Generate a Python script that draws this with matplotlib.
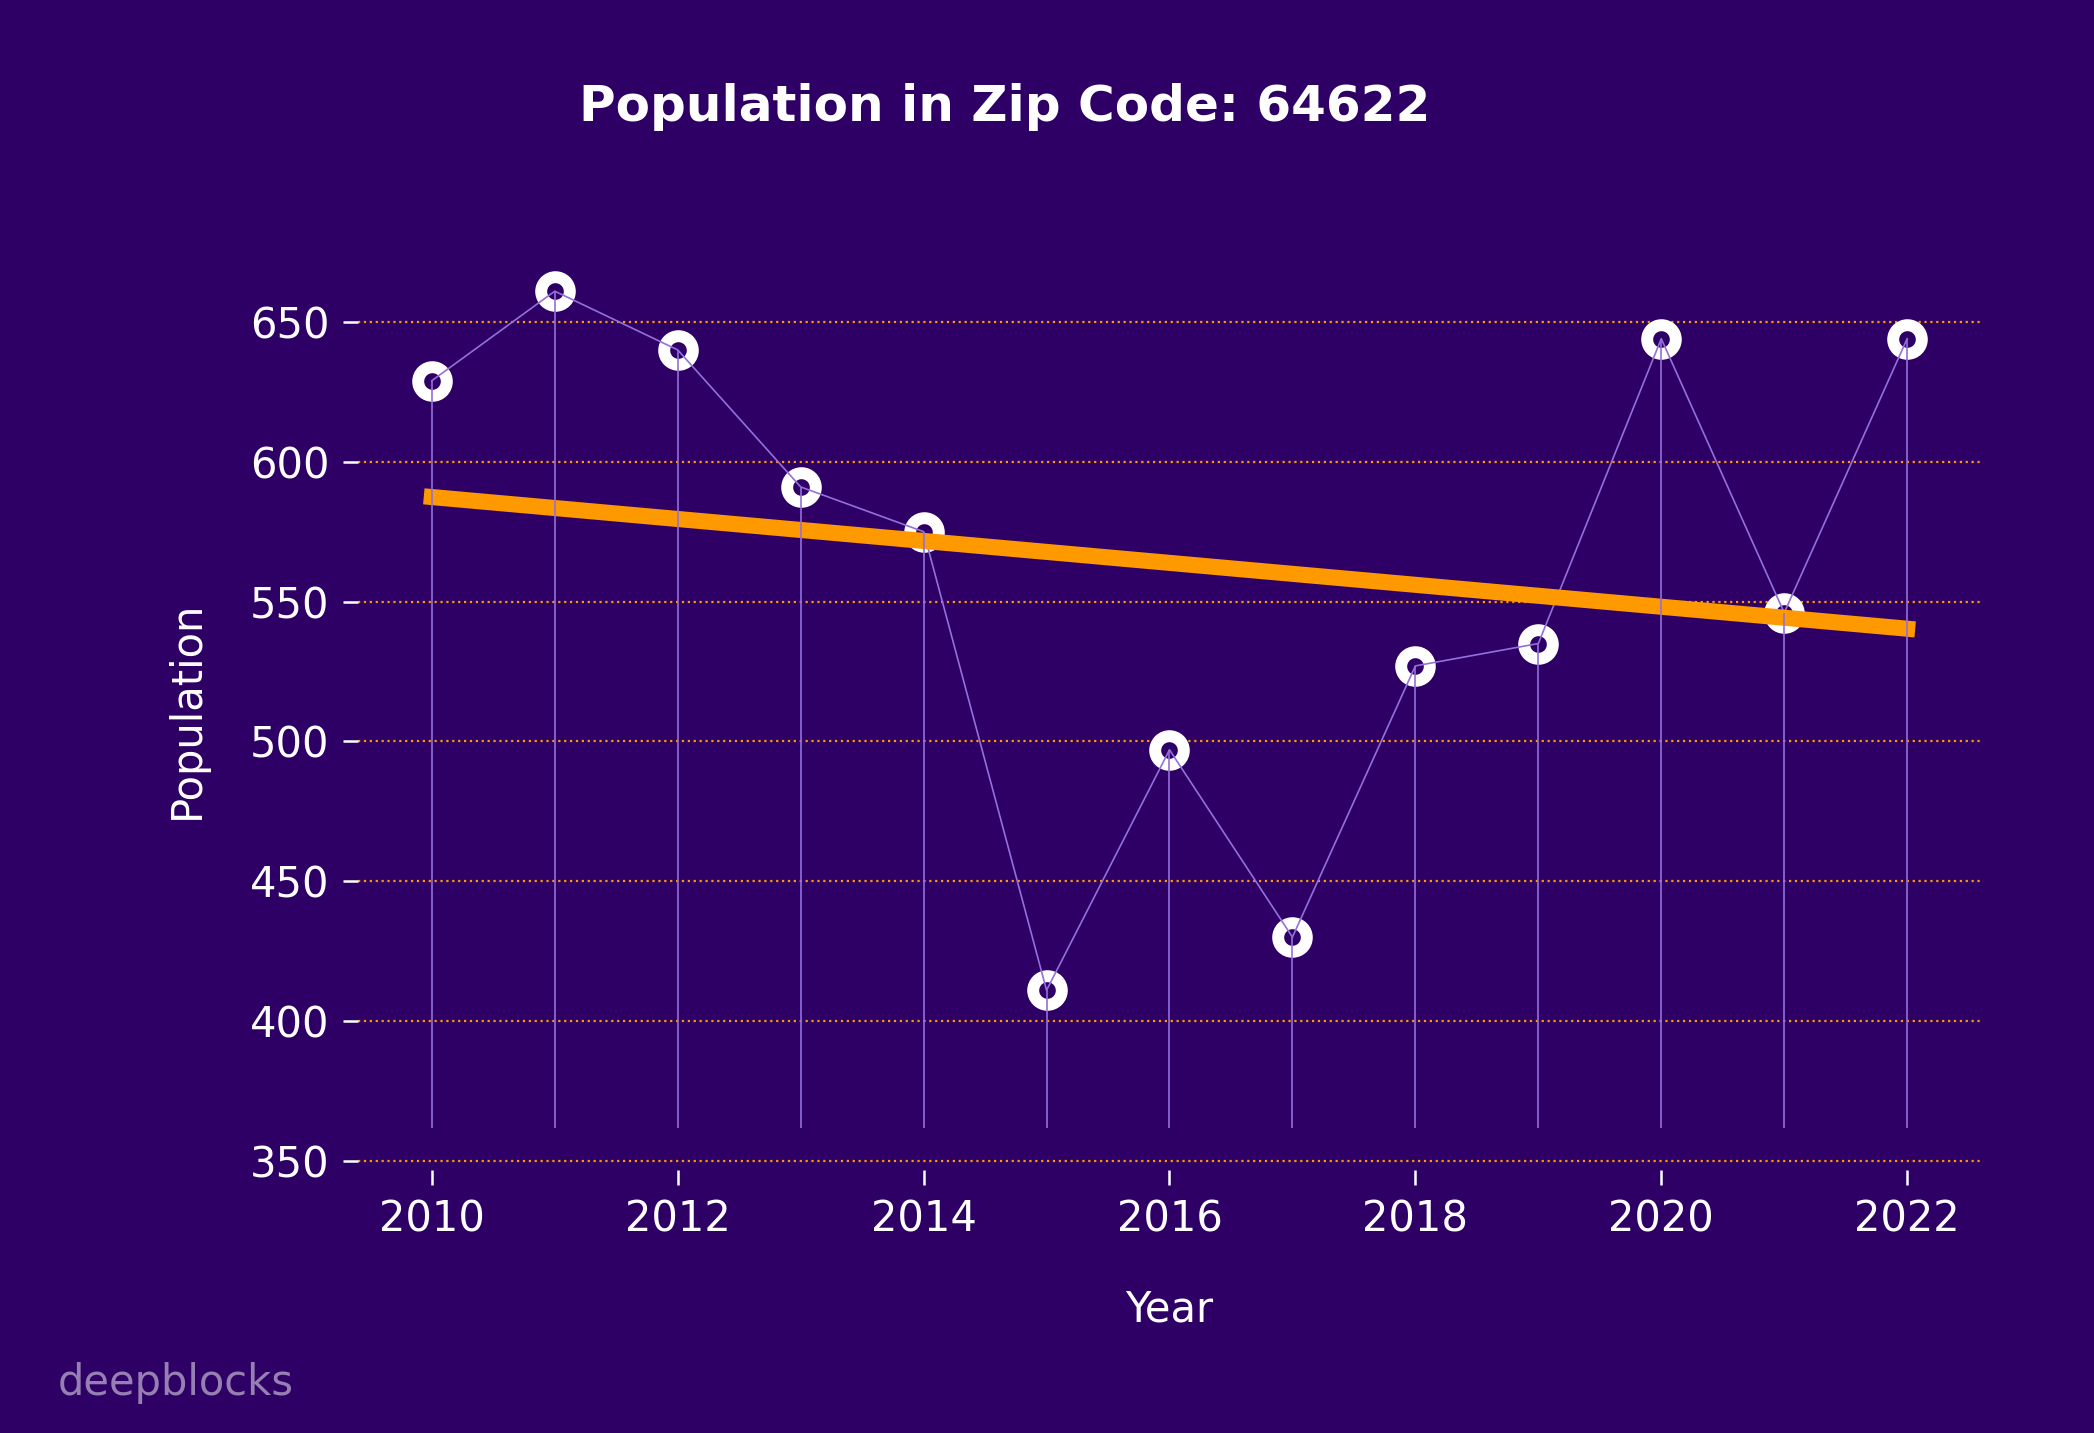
import numpy as np
import matplotlib
matplotlib.use("Agg")
import matplotlib.pyplot as plt

# population values
years = [2010, 2011, 2012, 2013, 2014, 2015, 2016, 2017, 2018, 2019, 2020, 2021, 2022]
population = [629, 661, 640, 591, 575, 411, 497, 430, 527, 535, 644, 546, 644]
yticks = [350, 400, 450, 500, 550, 600, 650]
xticks = [2010, 2012, 2014, 2016, 2018, 2020, 2022]

bg = "#2e0066"
purple = "#9370db"
orange = "#ff9900"

fig = plt.figure(figsize=(10.47, 7.165), dpi=200, facecolor=bg)
ax = fig.add_axes([0.171, 0.1835, 0.775, 0.6425])
ax.set_facecolor(bg)

# ring markers, then the thin connecting line on top
ax.plot(years, population, linestyle="none", marker="o", ms=10.3,
        mfc=bg, mec="white", mew=4.3, zorder=2)
ax.plot(years, population, color=purple, lw=0.6, zorder=3)

# linear trend
coef = np.polyfit(years, population, 1)
trend = np.polyval(coef, years)
ax.plot(years, trend, color=orange, lw=5.8, solid_capstyle="projecting", zorder=4)

# stems from below the minimum
ax.vlines(years, min(population) * 0.88, population, color=purple, lw=0.6, zorder=5)

ax.set_yticks(yticks)
ax.set_xticks(xticks)
ax.grid(axis="y", color=orange, linestyle=":", lw=0.8, zorder=0)
ax.set_axisbelow(True)
for s in ax.spines.values():
    s.set_visible(False)
ax.tick_params(colors="white", labelsize=15, length=5.4, width=0.9, pad=5)

ax.set_xlabel("Year", color="white", fontsize=15, labelpad=17)
ax.set_ylabel("Population", color="white", fontsize=15, labelpad=15)

fig.text(0.48, 0.925, "Population in Zip Code: 64622", color="white",
         fontsize=18, fontweight="bold", ha="center", va="center")
fig.text(0.0277, 0.0265, "deepblocks", color="white", alpha=0.5,
         fontsize=15, ha="left", va="baseline")

fig.savefig("out.png", dpi=200, facecolor=bg)
